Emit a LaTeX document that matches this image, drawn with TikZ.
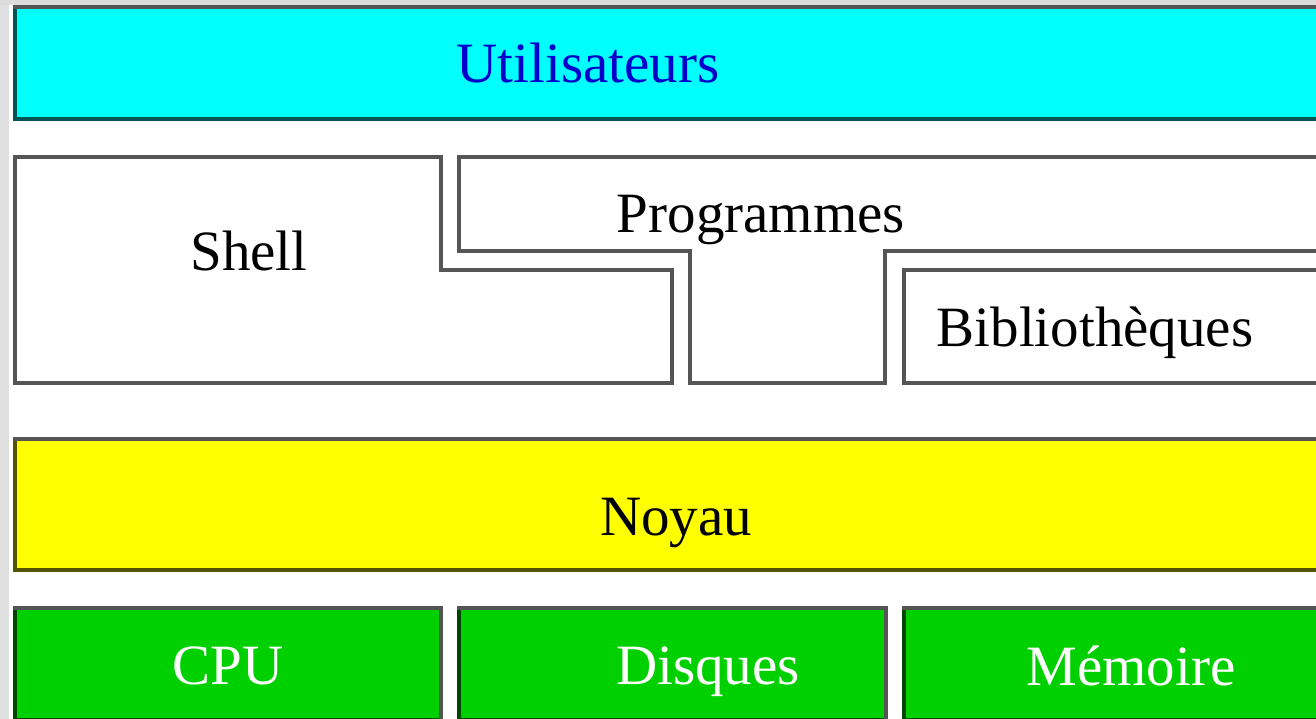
\documentclass[tikz,border=0pt]{standalone}
\usepackage{fontspec}
\setmainfont{Liberation Serif}
\definecolor{edgegray}{RGB}{85,85,85}
\definecolor{cyanfill}{RGB}{0,255,255}
\definecolor{cyandark}{RGB}{0,85,85}
\definecolor{yellowfill}{RGB}{255,255,0}
\definecolor{yellowdark}{RGB}{85,85,0}
\definecolor{greenfill}{RGB}{0,208,0}
\definecolor{greendark}{RGB}{0,69,0}
\definecolor{userblue}{RGB}{0,0,204}
\definecolor{stripgray}{RGB}{224,224,224}
\newcommand{\ridgebox}[6]{%
  \fill[#5] ({#1-2},{#2-2}) rectangle ({#3+2},{#4+2});
  \draw[edge,draw=#6] (#1,{#2-2}) -- (#1,#4) -- ({#3+2},#4);
  \draw[edge] ({#1-2},#2) -- (#3,#2) -- (#3,{#4+2});
}
\begin{document}
\begin{tikzpicture}[x=1pt,y=-1pt,
  edge/.style={draw=edgegray,line width=4pt,line join=miter},
  label/.style={inner sep=0pt,anchor=base,font=\fontsize{57}{60}\selectfont}]
\useasboundingbox (0,0) rectangle (1316,719);
\clip (0,0) rectangle (1316,719);
\fill[white] (0,0) rectangle (1316,719);
\fill[stripgray] (0,0) rectangle (9,719);
\fill[stripgray!98!black] (0,0) rectangle (1316,5);
% Utilisateurs
\ridgebox{15}{7}{1320}{119.5}{cyanfill}{cyandark}
\node[label,text=userblue] (users) at (588,83) {Utilisateurs};
% Shell
\draw[edge,fill=white] (15,157) -- (441,157) -- (441,270) -- (672,270) -- (672,382.5) -- (15,382.5) -- cycle;
\node[label] (shell) at (249,270) {Shell};
% Programmes
\draw[edge,fill=white] (459,157) -- (1320,157) -- (1320,251) -- (885,251) -- (885,382.5) -- (690,382.5) -- (690,251) -- (459,251) -- cycle;
\node[label] (prog) at (761,233) {Programmes};
% Bibliotheques
\draw[edge,fill=white] (904,270) -- (1320,270) -- (1320,382.5) -- (904,382.5) -- cycle;
\node[label] (lib) at (1095,346) {Bibliothèques};
% Noyau
\ridgebox{15}{439}{1320}{570}{yellowfill}{yellowdark}
\node[label] (kernel) at (676,535) {Noyau};
% Hardware
\ridgebox{15}{608}{441}{720}{greenfill}{greendark}
\node[label,text=white] (cpu) at (228,684) {CPU};
\ridgebox{459}{608}{885.5}{720}{greenfill}{greendark}
\node[label,text=white] (disk) at (708,684) {Disques};
\ridgebox{903.5}{608}{1320}{720}{greenfill}{greendark}
\node[label,text=white] (mem) at (1131,685) {Mémoire};
\end{tikzpicture}
\end{document}
